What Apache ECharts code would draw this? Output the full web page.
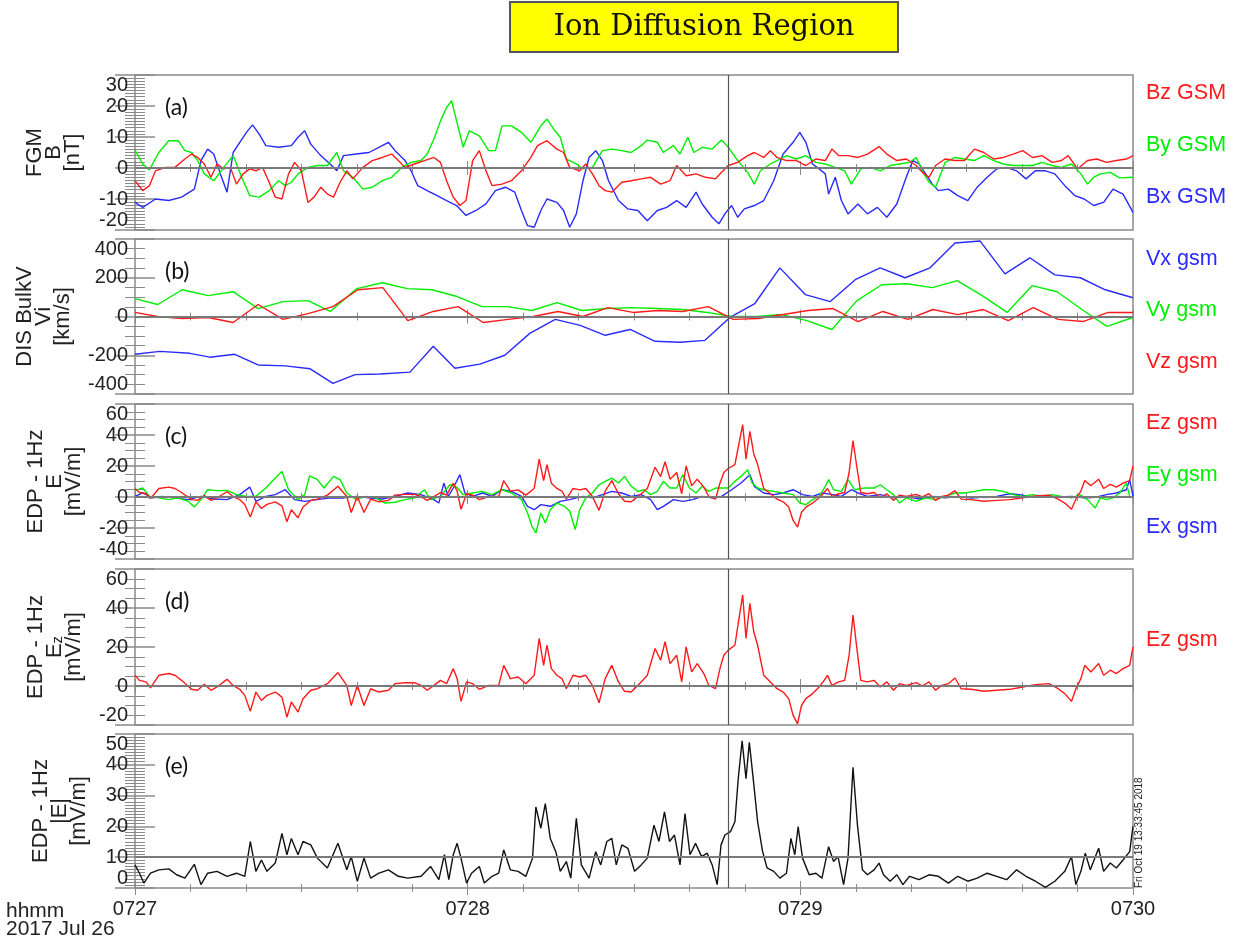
<!DOCTYPE html>
<html><head><meta charset="utf-8">
<script src="https://cdn.jsdelivr.net/npm/echarts@6/dist/echarts.min.js"></script>
<style>html,body{margin:0;padding:0;background:#fff}#c{width:1244px;height:945px}</style>
</head><body><div id="c"></div>
<script>
// time in seconds after 07:27:00 UT, 2017 Jul 26
const xTickLabels = ['0727','0728','0729','0730'];
const markerTime = 107;

// (a) FGM B [nT]
const bxGsm = [[0,-11.1],[1.4,-12.7],[3.7,-10.0],[6.1,-10.5],[8.4,-9.4],[10.7,-6.8],[11.9,2.4],[13.1,6.1],[14.2,4.5],[15.4,-1.9],[16.6,-7.8],[17.7,5.0],[18.9,8.3],[20.1,11.5],[21.2,13.9],[22.4,10.9],[23.6,7.2],[25.9,6.7],[28.2,7.2],[29.4,9.9],[30.6,12.0],[31.7,7.7],[33.5,4.0],[35.2,1.3],[36.4,-0.9],[37.6,4.0],[39.9,4.5],[42.2,5.0],[44.6,7.2],[45.7,8.3],[46.9,5.6],[48.7,2.4],[49.8,-0.9],[51.0,-5.7],[52.7,-7.3],[54.5,-8.9],[56.2,-10.5],[58.0,-12.1],[59.7,-15.3],[61.5,-13.7],[63.3,-11.6],[65.0,-7.3],[66.8,-6.2],[68.5,-7.8],[69.7,-13.7],[70.8,-18.6],[72.0,-19.1],[73.2,-13.7],[74.3,-10.0],[76.1,-11.1],[77.3,-13.7],[78.4,-19.1],[79.6,-14.8],[80.8,-4.1],[81.9,3.4],[83.1,5.6],[84.3,2.4],[85.4,-4.1],[87.2,-10.5],[88.9,-13.2],[90.7,-13.7],[92.4,-17.0],[94.2,-13.7],[95.9,-12.7],[97.7,-10.5],[99.4,-12.7],[101.2,-7.8],[102.3,-11.6],[104.1,-15.9],[105.3,-18.0],[106.4,-14.8],[107.6,-12.1],[108.7,-15.9],[109.9,-13.2],[111.7,-12.1],[113.4,-10.5],[115.2,-4.1],[116.9,4.5],[118.7,8.3],[119.9,11.5],[121.0,8.3],[122.2,1.3],[123.4,-0.3],[124.5,-1.9],[125.1,-8.4],[126.3,-3.0],[127.4,-10.5],[128.6,-14.8],[130.4,-11.6],[132.1,-14.8],[133.9,-12.7],[135.6,-15.9],[137.4,-11.6],[139.1,-3.0],[140.3,2.4],[141.4,1.3],[142.6,-1.9],[143.8,-5.2],[144.9,-7.3],[146.7,-6.8],[148.4,-8.9],[150.2,-10.5],[151.9,-6.2],[153.7,-3.0],[155.4,-0.3],[157.2,0.2],[159.0,-0.9],[160.7,-3.5],[162.4,-0.9],[164.2,-0.9],[165.9,-1.9],[167.7,-5.7],[169.5,-8.9],[171.2,-10.0],[172.9,-12.1],[174.7,-11.1],[176.4,-6.8],[178.2,-8.4],[180,-14.3]];
const byGsm = [[0,5.8],[1.4,1.3],[2.6,-0.6],[4.3,5.0],[6.1,8.8],[7.8,8.8],[9.0,5.6],[10.2,5.0],[11.3,2.4],[12.5,-1.9],[14.2,-4.1],[16.0,0.2],[17.7,4.0],[19.5,-4.1],[20.7,-8.9],[22.4,-9.4],[24.2,-7.3],[25.9,-4.1],[27.1,-5.7],[28.2,-4.6],[29.4,-1.9],[31.2,0.2],[32.9,0.8],[34.7,0.8],[36.4,5.0],[37.6,-0.9],[39.3,-3.0],[41.1,-6.8],[42.8,-6.2],[44.6,-4.1],[46.3,-3.0],[48.1,0.2],[49.8,1.8],[51.6,2.4],[52.7,4.5],[53.9,9.3],[55.1,15.2],[56.2,19.5],[57.1,21.7],[58.0,15.2],[59.2,6.7],[60.3,12.0],[62.1,10.4],[63.8,5.6],[65.0,5.6],[66.2,13.6],[67.9,13.6],[69.7,11.5],[71.4,8.3],[73.2,13.6],[74.3,15.8],[75.5,12.6],[76.7,9.9],[77.8,2.9],[79.6,1.3],[80.8,-0.3],[82.5,0.2],[84.3,5.6],[86.0,6.1],[87.8,5.6],[89.5,5.0],[91.3,7.2],[92.4,9.0],[94.2,8.3],[95.3,5.0],[97.1,7.2],[98.3,4.5],[99.7,9.9],[100.8,5.0],[102.3,6.7],[104.1,6.1],[105.8,9.0],[107.0,6.7],[108.7,2.4],[110.5,-1.4],[111.7,-5.2],[112.8,-0.9],[114.6,1.3],[115.8,2.4],[117.5,4.0],[119.3,2.9],[121.0,4.0],[122.8,1.8],[124.5,1.3],[126.3,0.2],[128.0,-0.9],[129.2,-5.2],[130.9,-0.3],[132.7,0.2],[134.4,-0.9],[136.2,0.8],[137.9,1.3],[139.7,1.8],[140.9,3.4],[142.0,-0.9],[143.2,-4.6],[144.4,-6.2],[146.1,1.8],[147.9,3.4],[149.6,2.9],[151.4,2.4],[153.1,4.0],[154.9,2.4],[156.6,1.3],[158.4,0.8],[160.1,0.8],[161.9,0.8],[163.6,1.8],[165.4,0.8],[167.1,0.2],[168.9,1.3],[170.6,-1.9],[171.8,-5.2],[172.9,-3.0],[174.1,-1.9],[175.9,-1.4],[177.6,-3.2],[180,-3.0]];
const bzGsm = [[0,-4.1],[1.4,-7.3],[2.6,-5.7],[3.7,-0.9],[5.5,0.2],[7.2,0.2],[9.0,2.9],[10.2,4.5],[11.3,3.4],[12.5,1.3],[13.7,-3.0],[14.8,1.3],[16.0,-0.3],[17.2,0.2],[18.3,-5.2],[19.5,-1.9],[20.7,-0.3],[21.8,-0.9],[23.0,0.2],[24.2,-4.6],[25.3,-9.4],[26.5,-10.0],[27.7,-1.9],[28.8,1.8],[30.0,-0.9],[31.2,-11.1],[32.3,-9.4],[33.5,-6.2],[34.7,-8.4],[35.8,-9.4],[37.0,-4.6],[38.2,-0.9],[39.3,-3.5],[41.1,0.2],[42.8,2.4],[44.6,3.4],[46.3,4.5],[47.5,2.4],[48.7,0.2],[50.4,1.3],[52.2,2.4],[53.9,3.4],[55.1,1.8],[56.2,-4.1],[57.4,-9.4],[58.6,-12.1],[59.7,-10.5],[60.9,2.4],[62.1,5.6],[63.3,-0.9],[64.4,-5.7],[66.2,-5.2],[67.9,-4.1],[69.7,-0.9],[71.4,3.4],[72.6,7.2],[74.3,8.8],[76.1,6.1],[77.3,5.0],[78.4,0.2],[80.2,-0.9],[81.3,1.3],[82.5,-1.9],[83.7,-5.7],[84.8,-7.3],[86.0,-7.8],[87.8,-4.6],[89.5,-4.1],[91.3,-3.5],[93.0,-3.0],[94.8,-5.2],[96.5,-4.1],[97.7,0.8],[99.4,-2.5],[101.2,-1.9],[102.9,-3.0],[104.7,-3.5],[105.8,-1.4],[107.0,0.8],[108.7,1.8],[110.5,4.0],[111.7,5.0],[113.4,3.4],[114.6,5.6],[115.8,3.4],[117.5,2.4],[119.3,2.4],[121.0,0.8],[122.8,2.9],[124.5,2.4],[125.7,6.1],[126.9,4.0],[128.6,4.0],[130.4,3.4],[132.1,4.5],[134.2,6.9],[135.6,4.5],[137.4,2.4],[139.1,2.9],[140.9,0.8],[142.0,-1.4],[143.2,-3.0],[144.4,0.8],[146.1,2.9],[147.9,2.4],[149.6,2.4],[151.4,6.1],[153.1,5.0],[154.9,2.9],[156.6,3.4],[158.4,4.5],[160.1,5.6],[161.9,3.4],[163.6,4.0],[165.4,1.8],[167.1,2.4],[168.3,4.0],[170.0,-0.3],[171.8,2.4],[173.5,2.9],[175.2,1.8],[177.0,2.4],[178.8,2.9],[180,4.0]];

// (b) DIS bulk velocity [km/s]
const vxGsm = [[0,-195],[4.5,-180],[9.9,-190],[13.5,-210],[18.0,-195],[22.2,-250],[27.1,-255],[31.6,-270],[35.7,-345],[39.7,-300],[44.2,-297],[49.6,-287],[53.8,-154],[57.7,-267],[62.2,-246],[66.7,-200],[71.2,-87],[75.8,-15],[80.3,-46],[84.8,-97],[89.3,-67],[93.8,-128],[98.3,-133],[102.8,-123],[107.3,-5],[111.8,67],[116.3,251],[120.9,113],[125.4,77],[129.9,190],[134.4,251],[138.9,200],[143.4,251],[147.9,379],[152.4,390],[156.9,220],[161.4,303],[165.9,215],[170.5,200],[175.0,138],[180,97]];
const vyGsm = [[0,92],[4.1,62],[8.5,138],[13.2,108],[17.7,128],[22.2,41],[26.7,77],[31.2,82],[35.2,26],[40.0,144],[44.6,174],[49.1,144],[53.6,138],[58.1,103],[62.6,51],[67.1,51],[71.6,31],[76.1,72],[80.6,31],[85.1,41],[89.6,46],[94.2,41],[98.7,36],[103.2,21],[107.7,0],[112.2,0],[116.7,10],[121.2,-21],[125.7,-67],[130.2,82],[134.7,164],[139.2,169],[143.8,149],[148.3,185],[152.8,108],[157.3,21],[161.8,159],[166.3,128],[170.8,36],[175.3,-51],[180,-5]];
const vzGsm = [[0,21],[4.1,0],[8.5,-10],[13.2,-5],[17.7,-31],[22.2,62],[26.7,-15],[31.2,15],[35.7,51],[40.2,138],[44.7,149],[49.2,-21],[53.8,26],[58.3,51],[62.8,-31],[67.3,-15],[71.8,0],[76.3,26],[80.8,0],[85.3,46],[89.8,21],[94.3,31],[98.8,26],[103.4,51],[107.9,-15],[112.4,-10],[116.9,10],[121.4,31],[125.9,41],[130.4,-26],[134.9,26],[139.4,-15],[143.9,36],[148.4,10],[153.0,36],[157.5,-21],[162.0,46],[166.5,-15],[171.0,-26],[175.5,21],[180,21]];

// (c),(d) EDP electric field [mV/m]
const ezGsm = [[0,5.5],[0.8,2.9],[2.0,2.1],[2.8,-1.0],[4.3,5.5],[6.1,6.4],[7.2,5.5],[8.4,2.9],[10.2,-1.7],[11.3,-2.2],[12.5,0.9],[13.7,-2.2],[14.8,-0.5],[16.6,3.4],[17.7,0.3],[18.9,-1.7],[19.8,-4.8],[20.8,-12.9],[21.8,-3.1],[22.8,-7.4],[23.8,-4.8],[25.3,-3.1],[26.5,-5.7],[27.4,-16.0],[28.2,-8.2],[29.4,-13.4],[30.3,-6.5],[31.7,-2.2],[32.9,-1.4],[34.7,1.2],[36.6,6.9],[38.2,0.3],[39.0,-10.0],[40.1,0.3],[41.3,-10.0],[42.5,-1.4],[44.0,-3.1],[45.7,-2.2],[46.9,1.2],[48.7,1.7],[50.4,1.7],[51.6,0.3],[52.7,-2.2],[53.9,0.3],[55.1,2.9],[56.2,1.2],[57.4,8.9],[58.1,3.8],[58.8,-7.9],[59.8,2.1],[60.9,1.2],[62.1,-1.7],[63.8,0.3],[65.6,0.3],[66.5,10.6],[67.7,3.8],[69.1,4.6],[70.5,1.2],[72.0,5.5],[72.9,24.4],[73.7,10.6],[74.3,20.9],[75.1,8.9],[76.1,5.5],[77.0,3.8],[77.8,-1.4],[79.0,5.5],[80.2,4.6],[81.3,5.5],[82.5,0.3],[83.7,-8.6],[84.8,3.8],[86.0,10.6],[87.2,2.1],[88.3,-2.7],[89.5,-3.1],[91.3,2.1],[92.4,5.5],[93.8,19.2],[94.8,13.2],[95.6,22.7],[96.5,11.5],[97.7,15.8],[98.6,2.1],[99.4,20.1],[100.4,7.2],[101.4,11.5],[102.6,6.4],[103.5,0.3],[104.7,-1.4],[105.5,8.9],[106.2,15.8],[107.0,18.4],[108.2,20.9],[108.8,32.1],[109.6,46.7],[110.2,24.4],[110.9,42.4],[111.6,27.8],[112.3,20.9],[113.4,5.5],[114.6,2.1],[115.8,-1.4],[116.9,-3.1],[117.9,-6.5],[118.7,-15.1],[119.5,-19.4],[120.2,-10.0],[121.0,-6.5],[122.2,-3.9],[123.4,-0.5],[124.1,2.1],[124.9,5.5],[125.7,0.3],[126.9,2.1],[128.0,2.9],[128.8,15.8],[129.5,36.4],[130.2,19.2],[130.9,2.9],[132.1,2.1],[133.3,2.9],[134.4,-0.5],[135.6,2.1],[136.8,-2.2],[137.9,1.2],[139.1,0.3],[140.9,1.7],[142.0,0.0],[143.2,2.1],[144.4,-2.2],[145.5,0.3],[146.7,1.2],[147.9,4.1],[149.0,-1.4],[150.8,-1.7],[153.1,-2.7],[155.4,-2.2],[157.8,-1.7],[160.1,-0.5],[162.4,0.7],[164.8,1.2],[166.5,-1.4],[167.7,-3.9],[168.9,-7.9],[169.7,-1.4],[170.6,3.8],[171.3,10.6],[172.4,7.2],[173.8,11.5],[174.7,5.5],[175.9,8.1],[177.0,6.4],[178.2,8.9],[179.4,10.6],[180,20.1]];
const eyGsm = [[0,4.3],[1.4,5.8],[2.6,0.4],[4.3,-0.6],[6.1,-1.7],[7.8,-0.6],[9.6,-2.8],[10.7,-6.4],[11.9,-1.7],[13.1,4.7],[14.8,4.1],[16.6,4.3],[18.3,1.5],[20.1,0.4],[21.8,0.4],[23.6,5.8],[25.3,12.2],[26.5,16.5],[27.7,4.7],[29.4,-1.7],[30.6,1.5],[31.5,13.7],[32.9,11.2],[34.1,5.8],[35.8,13.3],[37.0,11.2],[38.2,2.6],[39.9,-1.7],[41.6,0.4],[43.4,-0.6],[45.1,-3.9],[46.9,-3.4],[48.7,-1.7],[50.4,-0.6],[52.2,4.7],[53.3,-1.7],[55.1,0.4],[56.8,7.9],[58.0,6.4],[59.2,1.5],[60.9,2.6],[62.7,3.6],[64.4,1.5],[66.2,4.7],[67.9,2.6],[69.7,-1.7],[70.8,-10.3],[71.6,-18.9],[72.3,-23.2],[73.2,-10.3],[74.0,-16.7],[74.9,-8.2],[76.1,-3.9],[77.5,-6.0],[78.4,-9.2],[79.4,-21.0],[80.2,-8.2],[81.3,-0.6],[82.5,2.6],[83.7,7.9],[84.8,10.1],[86.0,12.2],[87.2,9.0],[88.3,13.3],[89.5,6.9],[90.7,3.6],[91.8,4.7],[93.0,1.5],[94.2,3.6],[95.3,10.1],[96.5,5.8],[97.7,5.8],[98.8,14.4],[100.0,5.8],[101.2,2.6],[102.3,6.9],[103.5,3.6],[104.7,5.8],[105.8,5.8],[107.0,5.8],[108.2,10.1],[109.3,13.3],[110.5,17.6],[111.3,9.0],[112.3,5.8],[113.4,4.7],[115.2,3.6],[116.9,2.6],[118.7,1.5],[119.9,-3.9],[121.0,-4.9],[122.2,-1.7],[123.4,0.4],[124.5,6.9],[125.1,11.2],[126.0,4.7],[127.4,3.6],[128.6,11.2],[129.8,4.7],[131.6,5.8],[133.3,5.8],[134.4,7.9],[135.6,4.7],[136.8,1.5],[137.9,-3.9],[139.1,-0.6],[140.9,-2.8],[142.6,-0.6],[144.4,-1.7],[146.1,0.4],[147.9,2.6],[149.6,2.6],[151.4,3.6],[153.1,4.7],[154.9,4.7],[156.6,3.6],[158.4,1.5],[160.1,0.4],[161.9,1.5],[163.6,0.4],[165.4,1.5],[167.1,0.4],[168.9,-0.6],[170.4,1.5],[171.8,-1.7],[173.2,-7.1],[174.1,-0.6],[175.2,-1.7],[176.4,-0.6],[177.6,2.6],[178.8,9.0],[179.4,0.4],[180,-0.6]];
const exGsm = [[0,0.4],[1.4,2.6],[3.2,-0.6],[4.9,0.4],[7.2,-0.6],[9.6,-1.7],[11.9,0.4],[14.2,-1.3],[16.6,-1.7],[18.9,1.5],[20.7,6.4],[21.8,-2.8],[23.6,0.4],[25.3,1.5],[27.1,4.7],[28.8,-1.7],[30.6,-2.8],[32.9,-1.7],[35.2,-0.6],[37.6,-0.6],[39.9,0.4],[42.2,-0.6],[44.6,-1.3],[46.9,0.4],[49.2,2.6],[51.6,1.5],[53.9,-1.7],[54.8,-3.9],[55.7,9.0],[56.5,0.4],[57.4,5.8],[58.6,14.4],[59.5,2.6],[60.9,0.4],[62.7,2.6],[64.4,0.4],[66.2,4.7],[67.9,3.6],[69.7,0.4],[70.8,-6.0],[72.0,-8.2],[73.2,-4.9],[74.9,-6.0],[76.7,-2.8],[78.4,-1.7],[80.8,0.4],[82.5,-0.6],[84.3,1.5],[86.0,3.6],[87.8,2.6],[89.5,0.4],[91.3,1.5],[93.0,-1.7],[94.2,-8.2],[95.3,-6.0],[97.1,-1.7],[98.8,-2.8],[100.6,-1.7],[102.3,0.4],[104.1,-0.6],[105.8,0.4],[107.6,4.7],[109.3,9.0],[110.9,14.4],[111.7,6.9],[113.4,2.6],[115.2,1.5],[116.9,2.6],[118.7,4.7],[120.4,1.5],[122.2,0.4],[124.0,2.6],[125.8,1.5],[127.4,0.4],[129.2,4.7],[130.4,2.6],[132.1,0.4],[134.4,1.5],[136.8,-0.6],[139.1,0.4],[141.4,-1.3],[143.8,0.4],[146.1,-0.6],[148.4,0.4],[150.8,-0.6],[153.1,0.0],[155.4,0.4],[157.8,2.1],[159.5,1.5],[161.9,0.0],[164.2,0.9],[166.5,0.0],[168.9,0.4],[171.2,-0.6],[173.5,0.0],[175.2,1.5],[177.0,2.6],[178.8,4.7],[179.4,11.2],[180,0.4]];

// (e) |E| [mV/m]
const eMag = [[0,7.5],[0.8,4.8],[1.6,1.6],[2.8,4.8],[4.3,5.9],[6.1,6.2],[7.5,4.3],[9.0,3.2],[10.7,7.7],[11.9,1.1],[13.1,4.8],[14.8,5.4],[16.6,3.8],[18.3,4.8],[19.8,3.8],[20.8,15.1],[21.8,5.4],[22.8,9.1],[23.8,5.4],[25.3,8.1],[26.5,17.7],[27.4,10.8],[28.2,16.1],[29.4,10.8],[30.3,15.1],[31.7,14.0],[32.9,9.7],[34.7,6.5],[36.6,14.5],[38.2,5.9],[39.0,10.2],[40.1,2.2],[41.3,9.7],[42.5,3.2],[44.0,4.8],[45.7,5.9],[47.5,3.8],[49.2,3.2],[51.6,3.8],[53.3,7.0],[54.8,2.7],[55.8,10.8],[56.6,2.7],[57.4,10.8],[58.1,14.5],[58.8,9.7],[59.8,1.6],[60.7,4.8],[62.1,7.0],[63.0,1.6],[64.4,3.8],[65.6,4.8],[66.5,12.4],[67.7,5.9],[69.1,5.4],[70.5,3.8],[71.7,9.7],[72.3,26.3],[73.2,19.4],[74.0,27.4],[74.9,16.1],[75.9,11.8],[76.7,5.4],[77.8,8.6],[78.6,3.2],[79.6,22.6],[80.5,7.5],[81.9,3.2],[83.1,11.8],[84.0,7.5],[85.1,15.1],[86.0,16.1],[86.8,7.5],[87.8,14.0],[88.9,12.9],[90.1,5.4],[91.3,7.5],[92.4,9.7],[93.6,20.4],[94.5,15.1],[95.5,24.7],[96.4,15.1],[97.3,17.2],[98.3,7.5],[99.2,24.2],[100.1,10.8],[101.1,14.5],[102.2,10.2],[103.2,11.3],[104.1,7.5],[105.0,1.1],[105.7,14.0],[106.4,17.2],[107.4,18.3],[108.2,21.5],[108.8,35.5],[109.5,47.8],[110.2,35.5],[110.8,47.3],[111.5,35.5],[112.3,21.5],[113.2,11.8],[114.0,6.5],[115.2,5.4],[116.3,3.2],[117.5,4.8],[118.3,16.1],[119.0,10.8],[119.6,19.9],[120.4,9.7],[121.6,4.3],[122.8,4.8],[123.9,3.2],[125.1,13.4],[126.0,8.6],[126.8,10.2],[127.8,1.1],[128.6,9.7],[129.5,39.2],[130.3,20.4],[131.2,5.9],[132.1,4.3],[133.3,5.9],[134.2,8.1],[135.0,4.3],[136.2,2.2],[137.4,4.3],[138.5,1.1],[139.7,3.8],[141.4,2.7],[143.2,4.3],[144.9,3.8],[146.7,1.6],[148.4,3.8],[150.2,2.2],[151.9,3.2],[153.7,4.8],[155.4,3.8],[157.2,2.7],[159.0,5.9],[160.7,3.8],[162.4,2.2],[164.2,0.2],[165.9,2.2],[167.7,5.4],[168.9,10.2],[169.7,1.1],[170.6,5.4],[171.4,11.3],[172.3,5.9],[173.8,12.9],[174.7,5.4],[175.9,8.1],[177.0,6.5],[178.2,9.1],[179.4,11.8],[180,20.0]];

const FONT = '"Liberation Sans", Arial, Helvetica, sans-serif';
const RED = '#ff1a1a', GREEN = '#00ee00', BLUE = '#2a2aff', BLACK = '#111111';
const AXC = '#8a8a8a';

const panels = [
  {top:75, height:155, min:-20, max:30, interval:10, minor:10, gap:53, ref:0, tag:'(a)',
   name:'FGM\nB\n[nT]',
   lines:[[bxGsm,BLUE],[byGsm,GREEN],[bzGsm,RED]],
   legend:[['Bz GSM',RED],['By GSM',GREEN],['Bx GSM',BLUE]], legendY:[93,145,197]},
  {top:239, height:155, min:-400, max:400, interval:200, minor:4, gap:63, ref:0, tag:'(b)',
   name:'DIS BulkV\nVi\n[km/s]',
   lines:[[vxGsm,BLUE],[vyGsm,GREEN],[vzGsm,RED]],
   legend:[['Vx gsm',BLUE],['Vy gsm',GREEN],['Vz gsm',RED]], legendY:[259,310,362]},
  {top:404, height:155, min:-40, max:60, interval:20, minor:4, gap:52, ref:0, tag:'(c)',
   name:'EDP - 1Hz\nE\n[mV/m]',
   lines:[[exGsm,BLUE],[eyGsm,GREEN],[ezGsm,RED]],
   legend:[['Ez gsm',RED],['Ey gsm',GREEN],['Ex gsm',BLUE]], legendY:[423,475,527]},
  {top:569, height:156, min:-20, max:60, interval:20, minor:4, gap:52, ref:0, tag:'(d)',
   name:'{n|EDP - 1Hz}\n{n|E}{s|z}\n{n|[mV/m]}',
   lines:[[ezGsm,RED]],
   legend:[['Ez gsm',RED]], legendY:[640]},
  {top:734, height:154, min:0, max:50, interval:10, minor:10, gap:47, ref:10, tag:'(e)',
   name:'EDP - 1Hz\n|E|\n[mV/m]',
   lines:[[eMag,BLACK]],
   legend:[], legendY:[]}
];

const grid = [], xAxis = [], yAxis = [], series = [], graphic = [];
panels.forEach((p, i) => {
  const last = i === panels.length - 1;
  grid.push({left:135, width:998, top:p.top, height:p.height, show:true, borderColor:AXC, borderWidth:1.5, backgroundColor:'transparent'});
  const xb = {type:'value', gridIndex:i, min:0, max:180, interval:60, axisLine:{show:false}, splitLine:{show:false},
    axisTick:{show:true, inside:true, length:7, lineStyle:{color:AXC, width:1}},
    minorTick:{show:true, splitNumber:6, length:4, lineStyle:{color:AXC, width:1}}};
  xAxis.push(Object.assign({}, xb, {position:'bottom',
    axisLabel:{show:last, fontSize:20, color:'#222', margin:11, fontFamily:FONT,
      formatter: v => xTickLabels[Math.round(v / 60)]}}));
  xAxis.push(Object.assign({}, xb, {position:'top', axisLabel:{show:false}}));
  const yb = {type:'value', gridIndex:i, min:p.min, max:p.max, interval:p.interval, axisLine:{show:false}, splitLine:{show:false},
    axisTick:{show:true, inside:true, length:20, lineStyle:{color:AXC, width:1.5}},
    minorTick:{show:true, splitNumber:p.minor, length:10, lineStyle:{color:AXC, width:1}}};
  yAxis.push(Object.assign({}, yb, {position:'left',
    axisLabel:{fontSize:20, color:'#222', margin:7, fontFamily:FONT, verticalAlignMinLabel:'bottom', verticalAlignMaxLabel:'top'},
    name:p.name, nameLocation:'middle', nameRotate:90, nameGap:p.gap,
    nameTextStyle:{fontSize:22, lineHeight:19, color:'#222', fontFamily:FONT, align:'center',
      rich:{n:{fontSize:22, lineHeight:19, fontFamily:FONT, color:'#222'}, s:{fontSize:15, lineHeight:19, fontFamily:FONT, color:'#222', padding:[7,0,0,0]}}}}));
  yAxis.push(Object.assign({}, yb, {position:'right', axisLabel:{show:false}}));
  p.lines.forEach(([data, color], k) => {
    const s = {type:'line', xAxisIndex:2*i, yAxisIndex:2*i, data, symbol:'none', showSymbol:false,
      lineStyle:{color, width:1.4}, itemStyle:{color}, silent:true, animation:false, z:3};
    if (k === 0) {
      s.markLine = {silent:true, symbol:['none','none'], label:{show:false}, animation:false,
        data:[
          {yAxis:p.ref, lineStyle:{color:'#7a7a7a', width:2, type:'solid'}},
          {xAxis:markerTime, lineStyle:{color:'#555', width:1.2, type:'solid'}}
        ]};
    }
    series.push(s);
  });
  graphic.push({type:'text', x:165, y:p.top + 33, style:{text:p.tag, fontSize:23, fontFamily:'Lato, "Open Sans", sans-serif', fill:'#111', align:'left', verticalAlign:'middle'}});
  p.legend.forEach(([txt, col], k) => {
    graphic.push({type:'text', x:1146, y:p.legendY[k], style:{text:txt, fontSize:21.5, fontFamily:FONT, fill:col, align:'left', verticalAlign:'middle'}});
  });
});

graphic.push(
  {type:'rect', shape:{x:510, y:2, width:388, height:50}, style:{fill:'#ffff00', stroke:'#555', lineWidth:2}},
  {type:'text', x:704, y:27, style:{text:'Ion Diffusion Region', fontSize:29, fontFamily:'"DejaVu Serif", serif', fill:'#111', align:'center', verticalAlign:'middle'}},
  {type:'text', x:6, y:911, style:{text:'hhmm', fontSize:21, fontFamily:FONT, fill:'#222', align:'left', verticalAlign:'middle'}},
  {type:'text', x:6, y:929, style:{text:'2017 Jul 26', fontSize:21, fontFamily:FONT, fill:'#222', align:'left', verticalAlign:'middle'}},
  {type:'text', x:1139, y:888, rotation:Math.PI/2, style:{text:'Fri Oct 19 13:33:45 2018', fontSize:10, fontFamily:FONT, fill:'#222', align:'left', verticalAlign:'middle'}}
);

const chart = echarts.init(document.getElementById('c'), null, {renderer:'canvas', width:1244, height:945});
chart.setOption({backgroundColor:'#fff', animation:false, grid, xAxis, yAxis, series, graphic});
</script>
</body></html>
